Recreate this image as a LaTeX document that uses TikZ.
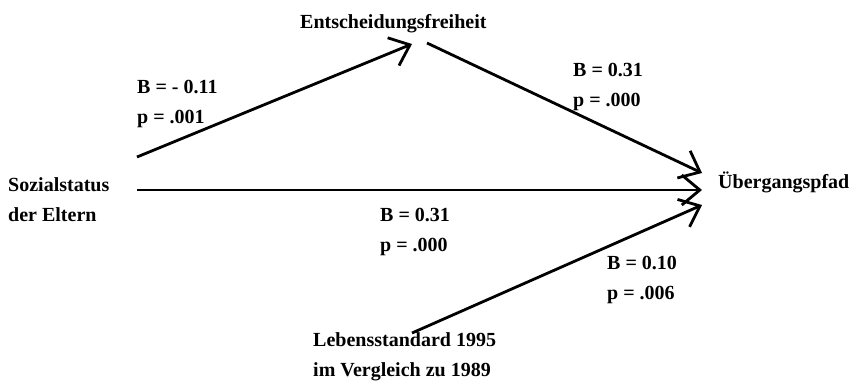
\documentclass[tikz,border=0pt]{standalone}
\usepackage{fontspec}
\setmainfont{Liberation Serif}
\usetikzlibrary{arrows.meta}

\begin{document}
\begin{tikzpicture}[x=1pt,y=-1pt,
    every node/.style={font=\bfseries\fontsize{20}{30}\selectfont,inner sep=0pt},
    var/.style={anchor=base west,align=left},
    coef/.style={anchor=base west,align=left},
    pfeil/.style={line width=2.8pt,-{Straight Barb[length=18pt,width=30pt]}}]
  \useasboundingbox (0,0) rectangle (858,386);
  % Variablen
  \node[var] (soz) at (8,221) {Sozialstatus\\der Eltern};
  \node[var] (ent) at (300,28) {Entscheidungsfreiheit};
  \node[var] (ueb) at (718,188) {Übergangspfad};
  \node[var] (leb) at (313,376) {Lebensstandard 1995\\im Vergleich zu 1989};
  % Pfadkoeffizienten
  \node[coef] (c1) at (137,123) {B = - 0.11\\p = .001};
  \node[coef] (c2) at (573,106) {B = 0.31\\p = .000};
  \node[coef] (c3) at (380,251) {B = 0.31\\p = .000};
  \node[coef] (c4) at (607,299) {B = 0.10\\p = .006};
  % Pfeilenden
  \coordinate (sozA) at (137,157);
  \coordinate (sozB) at (137,190);
  \coordinate (entIn) at (412,44);
  \coordinate (entOut) at (427,43);
  \coordinate (lebOut) at (412,333);
  \coordinate (uebA) at (702,173);
  \coordinate (uebB) at (702,190);
  \coordinate (uebC) at (702,205);
  % Pfade
  \draw[pfeil] (sozA) -- (entIn);
  \draw[pfeil] (entOut) -- (uebA);
  \draw[pfeil] (sozB) -- (uebB);
  \draw[pfeil] (lebOut) -- (uebC);
\end{tikzpicture}
\end{document}
